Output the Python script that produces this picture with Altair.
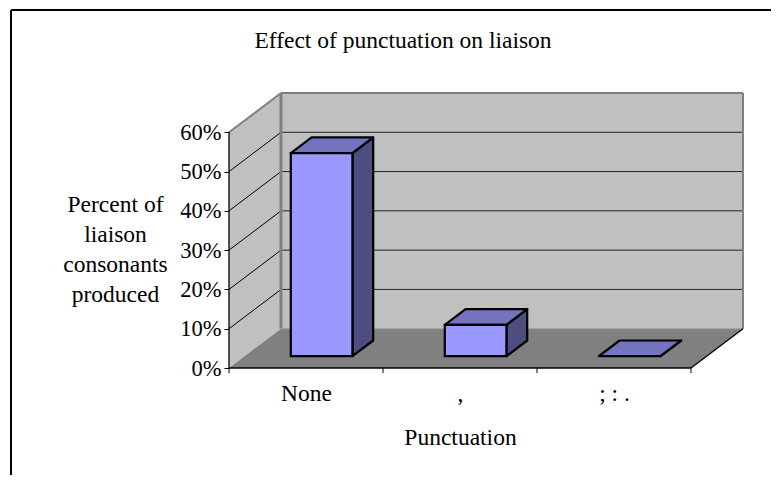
import json
import altair as alt
import pandas as pd

categories = ["None", ",", "; : ."]
values = [51.7, 8, 0]
y_ticks = [0, 10, 20, 30, 40, 50, 60]
x_ticks = [0, 1, 2, 3]
y_title = ["Percent of", "liaison", "consonants", "produced"]

FONT = "Liberation Serif"
FS = 23.5
FS_TICK = 22.5
DX = 52 / 154      # floor depth in category units
DY = 10            # floor depth in percent units
N = len(categories)
YMAX = 60
xs = alt.Scale(domain=[0, N + DX], nice=False, zero=False)
ys = alt.Scale(domain=[0, YMAX + DY], nice=False, zero=False)

x_axis = alt.Axis(values=[i + 0.5 for i in range(N)], grid=False, domain=False,
                  tickSize=0, labelPadding=32, labelFont=FONT, labelFontSize=FS,
                  labelColor="black", labelFlush=False, labelBaseline="alphabetic",
                  labelExpr=f"{json.dumps(categories)}[floor(datum.value)]",
                  title="Punctuation", titleFont=FONT, titleFontSize=FS,
                  titleFontWeight="normal", titleColor="black", titleBaseline="alphabetic",
                  titleX=231, titleY=76)
y_axis = alt.Axis(values=y_ticks, grid=False, domain=False, tickColor="black",
                  tickSize=5, labelPadding=3, labelFont=FONT, labelFontSize=FS_TICK,
                  labelColor="#000000", labelExpr="datum.value + '%'",
                  title=y_title, titleFont=FONT, titleFontSize=FS,
                  titleFontWeight="normal", titleColor="black", titleAngle=0,
                  titleAlign="center", titleBaseline="alphabetic", titleLineHeight=30,
                  titleX=-114, titleY=118)


def X(f="x"):
    return alt.X(f, type="quantitative", scale=xs, axis=x_axis)


def Y(f="y"):
    return alt.Y(f, type="quantitative", scale=ys, axis=y_axis, stack=None)


# walls and floor
left_wall = pd.DataFrame({"x": [0, DX], "y": [0, DY], "y2": [YMAX, YMAX + DY]})
back_wall = pd.DataFrame({"x": [DX, N + DX], "y": [DY, DY], "y2": [YMAX + DY, YMAX + DY]})
floor = pd.DataFrame({"y": [0, DY], "x": [0, DX], "x2": [N, N + DX]})

c_wall = alt.Chart(left_wall).mark_area(color="#C0C0C0").encode(x=X(), y=Y(), y2="y2")
c_back = alt.Chart(back_wall).mark_area(color="#C0C0C0").encode(x=X(), y=Y(), y2="y2")
c_floor = alt.Chart(floor).mark_area(color="#808080", orient="horizontal").encode(
    y=Y(), x=X(), x2="x2")

# gridlines on walls
grid_df = pd.DataFrame({"v": [v for v in y_ticks if 0 < v < YMAX]})
grid_df["v_back"] = grid_df["v"] + DY
grid_df["xa"] = 0.0
grid_df["xb"] = DX
grid_df["xc"] = N + DX
c_diag = alt.Chart(grid_df).mark_rule(color="black", strokeWidth=1).encode(
    x=X("xa"), x2="xb", y=Y("v"), y2="v_back")
c_grid = alt.Chart(grid_df).mark_rule(color="#222222", strokeWidth=1).encode(
    x=X("xb"), x2="xc", y=Y("v_back"))

# wall edges
edges = pd.DataFrame({
    "x": [0, DX, DX, DX, N + DX],
    "x2": [DX, N + DX, DX, N + DX, N + DX],
    "y": [YMAX, YMAX + DY, DY, DY, DY],
    "y2": [YMAX + DY, YMAX + DY, YMAX + DY, DY, YMAX + DY],
    "w": [2, 2, 3, 1, 2],
    "c": ["#808080", "#808080", "#808080", "#A0A0A0", "#808080"],
})
c_edges = alt.Chart(edges).mark_rule().encode(
    x=X(), x2="x2", y=Y(), y2="y2",
    strokeWidth=alt.StrokeWidth("w:Q", scale=None),
    color=alt.Color("c:N", scale=None),
)

# axis lines and ticks on x
axes = pd.DataFrame({
    "x": [0, 0, N],
    "x2": [0, N, N + DX],
    "y": [0, 0, 0],
    "y2": [YMAX, 0, DY],
})
c_axes = alt.Chart(axes).mark_rule(color="black", strokeWidth=1.3).encode(
    x=X(), x2="x2", y=Y(), y2="y2")
ticks = pd.DataFrame({"x": x_ticks, "y": [0] * len(x_ticks), "y2": [-1.3] * len(x_ticks)})
c_ticks = alt.Chart(ticks).mark_rule(color="black", strokeWidth=1).encode(
    x=X(), y=Y(), y2="y2")

# bars
BAR0, BAR1 = 0.3, 0.7   # position across category
Z0, Z1 = 0.3, 0.7       # position across depth
front, side, top = [], [], []
for i, (cat, v) in enumerate(zip(categories, values)):
    x0 = i + BAR0
    x1 = i + BAR1
    ox0, ox1 = Z0 * DX, Z1 * DX
    oy0, oy1 = Z0 * DY, Z1 * DY
    front.append({"b": cat, "x": x0 + ox0, "x2": x1 + ox0, "y": oy0, "y2": v + oy0})
    side += [
        {"b": cat, "x": x1 + ox0, "y": oy0, "y2": v + oy0},
        {"b": cat, "x": x1 + ox1, "y": oy1, "y2": v + oy1},
    ]
    top += [
        {"b": cat, "y": v + oy0, "x": x0 + ox0, "x2": x1 + ox0},
        {"b": cat, "y": v + oy1, "x": x0 + ox1, "x2": x1 + ox1},
    ]
SW = 2.2
c_side = alt.Chart(pd.DataFrame(side)).mark_area(
    color="#4D4D80", stroke="black", strokeWidth=SW, strokeJoin="round"
).encode(x=X(), y=Y(), y2="y2", detail="b:N")
c_top = alt.Chart(pd.DataFrame(top)).mark_area(
    color="#7373BF", stroke="black", strokeWidth=SW, strokeJoin="round", orient="horizontal"
).encode(y=Y(), x=X(), x2="x2", detail="b:N")
c_front = alt.Chart(pd.DataFrame(front[:2])).mark_rect(
    color="#9999FF", stroke="black", strokeWidth=SW
).encode(x=X(), x2="x2", y=Y(), y2="y2")

# page frame
frame_src = pd.DataFrame({"k": [0]})
c_frame_top = alt.Chart(frame_src).mark_rule(color="black", strokeWidth=2).encode(
    x=alt.value(-218), x2=alt.value(560), y=alt.value(-83))
c_frame_left = alt.Chart(frame_src).mark_rule(color="black", strokeWidth=2).encode(
    x=alt.value(-218), y=alt.value(-83), y2=alt.value(410))

chart = alt.layer(
    c_wall, c_back, c_floor, c_diag, c_grid, c_edges, c_axes, c_ticks,
    c_side, c_top, c_front, c_frame_top, c_frame_left,
).properties(
    width=514,
    height=275,
    padding={"left": 221, "top": 85, "right": 28, "bottom": 107},
    autosize=alt.AutoSizeParams(type="none"),
    background="white",
    title=alt.TitleParams(
        "Effect of punctuation on liaison", font=FONT, fontSize=FS, fontWeight="normal",
        color="black", anchor="middle", frame="group", dx=-83, dy=43, offset=0,
    ),
).configure_view(stroke=None)

chart.save("out.html", embed_options={"renderer": "svg", "actions": False})
